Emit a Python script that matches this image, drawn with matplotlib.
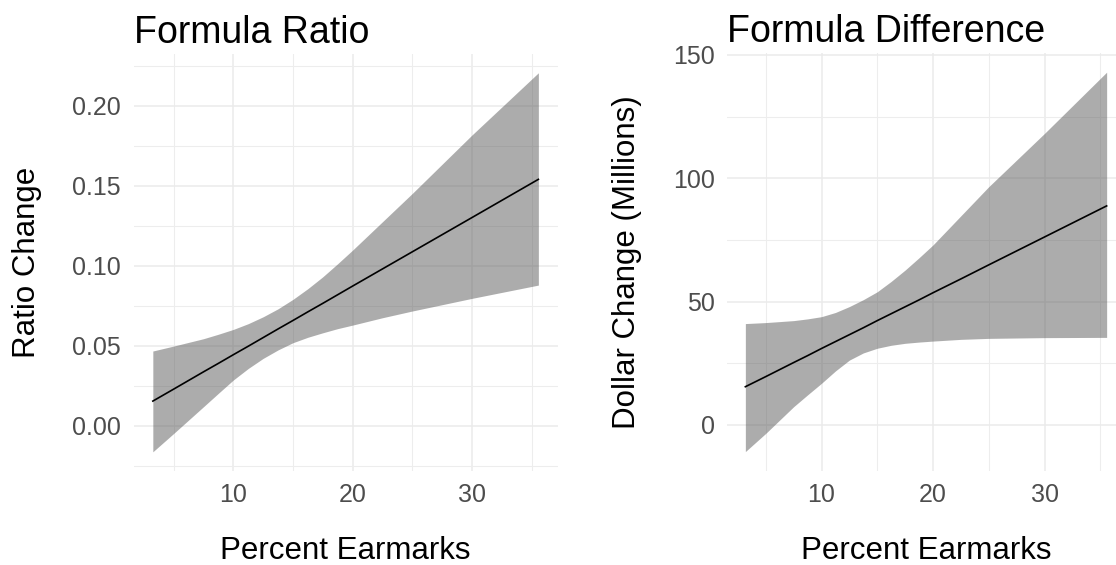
import matplotlib
matplotlib.use("Agg")
import matplotlib.pyplot as plt
from matplotlib.ticker import MultipleLocator

plt.rcParams["font.family"] = ["Liberation Sans", "DejaVu Sans"]

# values
ratio_x = [3.25, 5, 7.5, 8.75, 10, 11.25, 12.5, 13.75, 15, 16.25, 17.5, 18.75, 20, 22.5, 25, 30, 35.57]
ratio_fit = [0.0154, 0.0229, 0.0337, 0.0390, 0.0444, 0.0497, 0.0551, 0.0605, 0.0658, 0.0712,
             0.0765, 0.0819, 0.0873, 0.0980, 0.1087, 0.1301, 0.154]
ratio_upper = [0.0467, 0.0498, 0.0544, 0.0572, 0.0602, 0.0638, 0.0681, 0.0731, 0.079, 0.0857,
               0.0931, 0.1013, 0.1098, 0.1275, 0.1452, 0.1817, 0.2206]
ratio_lower = [-0.0163, -0.0048, 0.0119, 0.0203, 0.0286, 0.0358, 0.0421, 0.0474, 0.0519, 0.0553,
               0.0581, 0.0607, 0.0629, 0.0675, 0.0717, 0.0796, 0.0879]

diff_x = [3.17, 5, 7.5, 8.75, 10, 11.25, 12.5, 13.75, 15, 16.25, 17.5, 18.75, 20, 22.5, 25, 30, 35.57]
diff_fit = [15.5, 19.6, 25.3, 28.1, 31.0, 33.8, 36.6, 39.4, 42.3, 45.1, 47.9, 50.7, 53.6, 59.2,
            64.9, 76.2, 88.8]
diff_upper = [41.1, 41.5, 42.3, 43.0, 43.9, 45.6, 48.0, 50.8, 54.0, 58.2, 62.8, 67.8, 73.0, 84.8,
              96.6, 118.2, 143.0]
diff_lower = [-10.8, -3.4, 7.4, 12.2, 16.9, 21.9, 26.3, 29.2, 31.1, 32.3, 33.1, 33.6, 34.0, 34.7,
              35.1, 35.4, 35.5]

ratio_yticks = [0.00, 0.05, 0.10, 0.15, 0.20]
ratio_yticklabels = ["0.00", "0.05", "0.10", "0.15", "0.20"]
diff_yticks = [0, 50, 100, 150]
x_ticks = [10, 20, 30]

W, H = 1116, 565
fig = plt.figure(figsize=(W / 100, H / 100), dpi=100)


def px_axes(left, top, right, bottom):
    return fig.add_axes([left / W, 1 - bottom / H, (right - left) / W, (bottom - top) / H])


def style(ax):
    for s in ax.spines.values():
        s.set_visible(False)
    ax.tick_params(which="both", length=0, labelsize=18, labelcolor="#4D4D4D", pad=9)
    ax.xaxis.set_major_locator(MultipleLocator(10))
    ax.xaxis.set_minor_locator(MultipleLocator(5))
    ax.grid(which="major", color="#EBEBEB", lw=1.1)
    ax.grid(which="minor", color="#EDEDED", lw=0.8)
    ax.set_axisbelow(True)


ax1 = px_axes(133.5, 53.9, 557.7, 470.7)
ax1.fill_between(ratio_x, ratio_lower, ratio_upper, color="#5B5B5B", alpha=0.5, lw=0)
ax1.plot(ratio_x, ratio_fit, color="black", lw=1.2)
ax1.set_xlim(1.63, 37.19)
ax1.set_ylim(-0.0281, 0.2324)
style(ax1)
ax1.set_xticks(x_ticks)
ax1.set_yticks(ratio_yticks)
ax1.set_yticklabels(ratio_yticklabels)
ax1.yaxis.set_minor_locator(MultipleLocator(0.025))
ax1.set_title("Formula Ratio", loc="left", fontsize=27, pad=8)

ax2 = px_axes(727.3, 53.2, 1124.7, 470.6)
ax2.fill_between(diff_x, diff_lower, diff_upper, color="#5B5B5B", alpha=0.5, lw=0)
ax2.plot(diff_x, diff_fit, color="black", lw=1.2)
ax2.set_xlim(1.55, 37.19)
ax2.set_ylim(-18.5, 150.7)
style(ax2)
ax2.set_xticks(x_ticks)
ax2.set_yticks(diff_yticks)
ax2.yaxis.set_minor_locator(MultipleLocator(25))
ax2.set_title("Formula Difference", loc="left", fontsize=27, pad=8)

fig.text(345.6 / W, 1 - 551 / H, "Percent Earmarks", fontsize=22.5, ha="center", va="center")
fig.text(926 / W, 1 - 551 / H, "Percent Earmarks", fontsize=22.5, ha="center", va="center")
fig.text(27 / W, 1 - 262 / H, "Ratio Change", fontsize=22.5, rotation=90, ha="center", va="center")
fig.text(627 / W, 1 - 262 / H, "Dollar Change (Millions)", fontsize=22.5, rotation=90,
         ha="center", va="center")

fig.savefig("out.png", dpi=100)
